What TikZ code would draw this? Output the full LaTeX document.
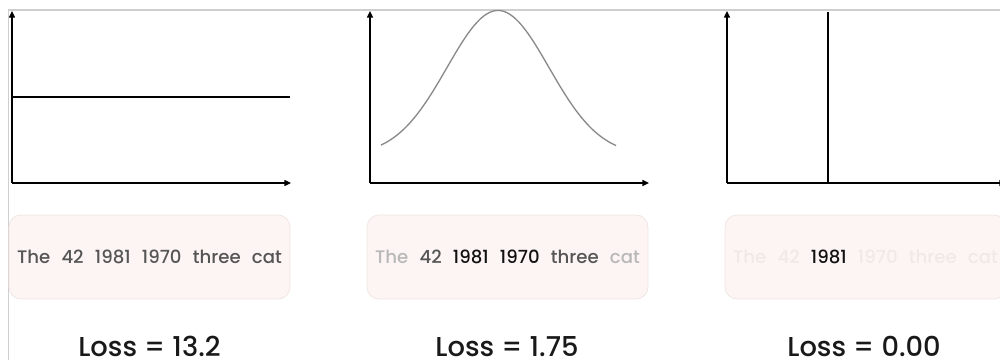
\documentclass[tikz,border=0pt]{standalone}
\usepackage{fontspec}
\setmainfont{Poppins Medium}
\usepackage{xcolor}
\usetikzlibrary{arrows.meta,positioning}
\definecolor{framegray}{HTML}{CFCFCF}
\definecolor{curvegray}{HTML}{8A8A8A}
\definecolor{cardfill}{HTML}{FDF5F3}
\definecolor{cardline}{HTML}{F0E6E4}
\definecolor{wordmid}{HTML}{555555}
\definecolor{wordfaint}{HTML}{B8B8B8}
\definecolor{wordghost}{HTML}{EFE9E8}
\definecolor{wordbold}{HTML}{111111}
\newcommand{\wgap}{\hspace{0.62em}}

\begin{document}
\begin{tikzpicture}[
  x=0.75pt,y=-0.75pt,
  axis/.style={-{Triangle[length=5pt,width=4.5pt]},line width=1pt,draw=black},
  curve/.style={line width=.9pt,draw=black},
  bell/.style={line width=1pt,draw=curvegray},
  frame/.style={line width=.8pt,draw=framegray},
  card/.style={draw=cardline,fill=cardfill,rounded corners=9pt,line width=.6pt,
    minimum width=210.75pt,minimum height=63pt,inner sep=0pt,
    font=\fontsize{13.6}{15}\selectfont},
  loss/.style={font=\fontsize{20.5}{24}\selectfont,text=black!90,anchor=base,inner sep=0pt}
]
\useasboundingbox (0,0) rectangle (1000,360);
\clip (0,0) rectangle (1000,360);
\draw[frame] (8.5,360) -- (8.5,10) -- (1000,10);
\foreach \p/\dx in {1/0,2/358,3/715} {
  \coordinate (o\p) at (12+\dx,183);
  \coordinate (ytop\p) at (12+\dx,11);
  \coordinate (xend\p) at (291+\dx,183);
  \draw[axis] (o\p) -- (ytop\p);
  \draw[axis] (o\p) -- (xend\p);
}
% uniform guess
\coordinate (flatL) at (12,97);
\coordinate (flatR) at (290,97);
\draw[curve] (flatL) -- (flatR);
% gaussian
\draw[bell] plot[domain=381:616,samples=90] (\x,{155.5-145*exp(-((\x-498)^2)/(2*51^2))});
% one-hot
\coordinate (spikeTop) at (828,12);
\coordinate (spikeBase) at (828,183);
\draw[curve] (spikeBase) -- (spikeTop);
\node[card] (card1) at (149.5,257) {\color{wordmid}The\wgap 42\wgap 1981\wgap 1970\wgap three\wgap cat};
\node[card] (card2) at (507.5,257) {\textcolor{wordfaint}{The}\wgap\textcolor{wordmid}{42}\wgap
  \textcolor{wordbold}{1981}\wgap\textcolor{wordbold}{1970}\wgap\textcolor{wordmid}{three}\wgap\textcolor{wordfaint}{cat}};
\node[card] (card3) at (865.5,257) {\color{wordghost}The\wgap 42\wgap\textcolor{wordbold}{1981}\wgap 1970\wgap three\wgap cat};
\node[loss] (loss1) at (149.5,356) {Loss = 13.2};
\node[loss] (loss2) at (507,356) {Loss = 1.75};
\node[loss] (loss3) at (864,356) {Loss = 0.00};
\end{tikzpicture}
\end{document}
